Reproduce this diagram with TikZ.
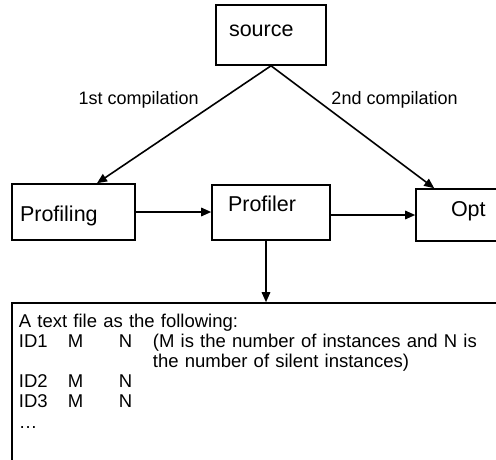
\documentclass[tikz,border=0pt]{standalone}
\usepackage{fontspec}
\setmainfont{Liberation Sans}
\usetikzlibrary{calc,arrows.meta}

\begin{document}
\begin{tikzpicture}[x=1pt,y=-1pt,line width=1.6pt,>={Triangle[length=10pt,width=8.5pt]},
	box/.style={draw,inner ysep=0pt,align=left,font=\fontsize{21.5}{24}\selectfont},
	lbl/.style={inner sep=2pt,font=\fontsize{18}{20}\selectfont},
	listing/.style={draw,inner ysep=0pt,align=left,font=\fontsize{18.5}{20.2}\selectfont}]
	\useasboundingbox (0,0) rectangle (496,459);
	\node[box,inner xsep=13pt,text width=84pt,text height=31pt,text depth=29pt] (source) at (271,35) {source};
	\node[box,inner xsep=8pt,text width=107pt,text height=37pt,text depth=19pt] (profiling) at (73.5,212) {Profiling};
	\node[box,inner xsep=16pt,text width=86pt,text height=26.7pt,text depth=28.3pt] (profiler) at (271,212.5) {Profiler};
	\node[box,inner xsep=35pt,text width=40pt,text height=27pt,text depth=25pt] (opt) at (471,215) {Opt};
	\node[listing,inner xsep=7pt,text width=501pt,text height=24pt,text depth=168pt] (output) at (269.5,399) {A text file as the following:\\
		\makebox[49pt][l]{ID1}\makebox[51pt][l]{M}\makebox[34pt][l]{N}(M is the number of instances and N is\\
		\hspace*{134pt}the number of silent instances)\\
		\makebox[49pt][l]{ID2}\makebox[51pt][l]{M}N\\
		\makebox[49pt][l]{ID3}\makebox[51pt][l]{M}N\\
		…};
	% compilations
	\draw[->] (source.south) -- node[lbl,pos=0.29,left=19pt]{1st compilation} ([xshift=23.5pt]profiling.north);
	\draw[->] (source.south) -- node[lbl,pos=0.28,right=12pt]{2nd compilation} ([xshift=19pt]opt.north west);
	% profiling flow
	\draw[->] (profiling.east) -- (profiling.east -| profiler.west);
	\draw[->] (opt.west -| profiler.east) -- (opt.west);
	\coordinate (drop) at ([xshift=-5pt]profiler.south);
	\draw[->] (drop) -- (drop |- output.north);
\end{tikzpicture}
\end{document}
